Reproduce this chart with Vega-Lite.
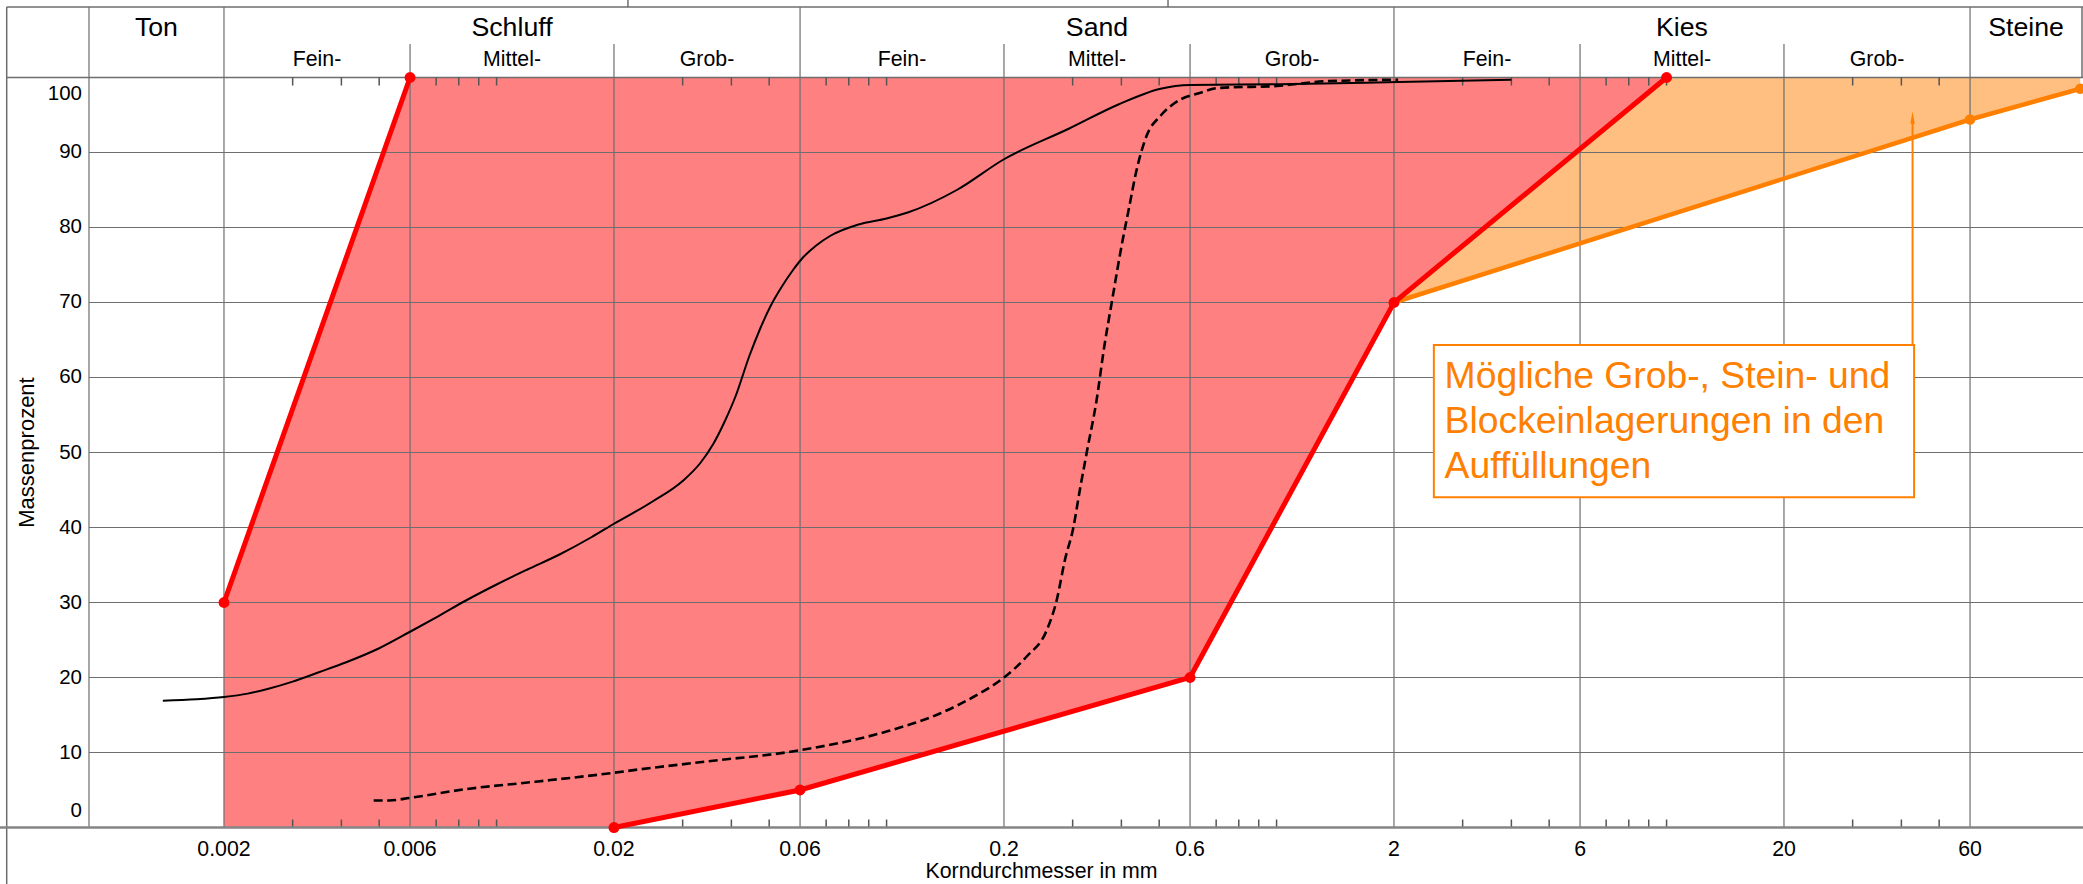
{
  "$schema": "https://vega.github.io/schema/vega-lite/v6.json",
  "width": 2083,
  "height": 884,
  "autosize": {"type": "none"},
  "padding": 0,
  "background": "white",
  "config": {"view": {"stroke": null}, "font": "Liberation Sans"},
  "datasets": {
    "kurve_durchgezogen": [
      {"d": 0.001394, "p": 16.9}, {"d": 0.0017, "p": 17.1}, {"d": 0.002, "p": 17.4}, {"d": 0.0023, "p": 17.85},
      {"d": 0.0026, "p": 18.5}, {"d": 0.003, "p": 19.45}, {"d": 0.0035, "p": 20.7}, {"d": 0.0041, "p": 22.0},
      {"d": 0.005, "p": 23.9}, {"d": 0.006, "p": 26.1}, {"d": 0.0071, "p": 28.2}, {"d": 0.0083, "p": 30.2},
      {"d": 0.01, "p": 32.4}, {"d": 0.012, "p": 34.4}, {"d": 0.0145, "p": 36.4}, {"d": 0.0175, "p": 38.7},
      {"d": 0.02, "p": 40.5}, {"d": 0.025, "p": 43.4}, {"d": 0.03, "p": 46.2}, {"d": 0.0333, "p": 48.6},
      {"d": 0.036, "p": 51.2}, {"d": 0.0385, "p": 54.2}, {"d": 0.041, "p": 57.5}, {"d": 0.0445, "p": 62.9},
      {"d": 0.0474, "p": 66.5}, {"d": 0.0505, "p": 69.6}, {"d": 0.0537, "p": 72.0}, {"d": 0.0575, "p": 74.3},
      {"d": 0.0608, "p": 75.9}, {"d": 0.066, "p": 77.6}, {"d": 0.0718, "p": 78.9}, {"d": 0.0847, "p": 80.4},
      {"d": 0.1, "p": 81.2}, {"d": 0.1133, "p": 82.0}, {"d": 0.1514, "p": 85.0}, {"d": 0.2, "p": 89.1},
      {"d": 0.294, "p": 93.2}, {"d": 0.393, "p": 96.4}, {"d": 0.504, "p": 98.5}, {"d": 0.6, "p": 99.0},
      {"d": 1.02, "p": 99.1}, {"d": 2.05, "p": 99.4}, {"d": 4.0, "p": 99.7}
    ],
    "kurve_gestrichelt": [
      {"d": 0.00484, "p": 3.6}, {"d": 0.0053, "p": 3.6}, {"d": 0.006, "p": 3.95}, {"d": 0.0083, "p": 5.1},
      {"d": 0.01257, "p": 6.1}, {"d": 0.02, "p": 7.3}, {"d": 0.02332, "p": 7.76}, {"d": 0.03456, "p": 8.8},
      {"d": 0.06, "p": 10.3}, {"d": 0.1, "p": 12.8}, {"d": 0.137, "p": 15.2}, {"d": 0.1668, "p": 17.4},
      {"d": 0.2, "p": 20.0}, {"d": 0.2287, "p": 22.8}, {"d": 0.2574, "p": 26.3}, {"d": 0.273, "p": 30.3},
      {"d": 0.2867, "p": 35.7}, {"d": 0.301, "p": 39.9}, {"d": 0.313, "p": 45.0}, {"d": 0.326, "p": 50.0},
      {"d": 0.3456, "p": 57.0}, {"d": 0.362, "p": 64.3}, {"d": 0.377, "p": 69.7}, {"d": 0.4016, "p": 77.9},
      {"d": 0.4186, "p": 82.65}, {"d": 0.4364, "p": 87.4}, {"d": 0.464, "p": 92.2}, {"d": 0.504, "p": 94.9},
      {"d": 0.548, "p": 96.6}, {"d": 0.6416, "p": 98.0}, {"d": 0.7076, "p": 98.6}, {"d": 1.02, "p": 98.9},
      {"d": 1.33, "p": 99.5}, {"d": 2.05, "p": 99.7}
    ],
    "rot_flaeche": [
      {"d": 0.002, "p": 0, "p2": 30}, {"d": 0.006, "p": 0, "p2": 100}, {"d": 0.02, "p": 0, "p2": 100},
      {"d": 0.06, "p": 5, "p2": 100}, {"d": 0.6, "p": 20, "p2": 100}, {"d": 2, "p": 70, "p2": 100},
      {"d": 10, "p": 100, "p2": 100}
    ],
    "rot_linien": [
      {"d": 0.002, "p": 30, "g": "links", "o": 1}, {"d": 0.006, "p": 100, "g": "links", "o": 2},
      {"d": 0.02, "p": 0, "g": "rechts", "o": 1}, {"d": 0.06, "p": 5, "g": "rechts", "o": 2},
      {"d": 0.6, "p": 20, "g": "rechts", "o": 3}, {"d": 2, "p": 70, "g": "rechts", "o": 4},
      {"d": 10, "p": 100, "g": "rechts", "o": 5}
    ],
    "orange": [{"d": 2, "p": 70}, {"d": 60, "p": 94.4}, {"d": 115, "p": 98.5}],
    "gitter": [{"p": 10}, {"p": 20}, {"p": 30}, {"p": 40}, {"p": 50}, {"p": 60}, {"p": 70}, {"p": 80}, {"p": 90}],
    "y_werte": [{"p": 0}, {"p": 10}, {"p": 20}, {"p": 30}, {"p": 40}, {"p": 50}, {"p": 60}, {"p": 70}, {"p": 80}, {"p": 90}, {"p": 100}],
    "x_werte": [{"d": 0.002}, {"d": 0.006}, {"d": 0.02}, {"d": 0.06}, {"d": 0.2}, {"d": 0.6}, {"d": 2}, {"d": 6}, {"d": 20}, {"d": 60}],
    "rahmen_h": [{"p": 100}, {"p": 109.4}],
    "haupt_linien": [{"d": 0.00090134}, {"d": 0.002}, {"d": 0.06}, {"d": 2}, {"d": 60}],
    "unter_linien": [{"d": 0.006}, {"d": 0.02}, {"d": 0.2}, {"d": 0.6}, {"d": 6}, {"d": 20}],
    "rahmen_links": [{"d": 0.0005545}],
    "rahmen_rechts": [{"d": 116.2}],
    "oben_linien": [{"d": 0.02172}, {"d": 0.5268}],
    "nebenstriche": [
      {"d": 0.003}, {"d": 0.004}, {"d": 0.005}, {"d": 0.007}, {"d": 0.008}, {"d": 0.009}, {"d": 0.01},
      {"d": 0.03}, {"d": 0.04}, {"d": 0.05}, {"d": 0.07}, {"d": 0.08}, {"d": 0.09}, {"d": 0.1},
      {"d": 0.3}, {"d": 0.4}, {"d": 0.5}, {"d": 0.7}, {"d": 0.8}, {"d": 0.9}, {"d": 1},
      {"d": 3}, {"d": 4}, {"d": 5}, {"d": 7}, {"d": 8}, {"d": 9}, {"d": 10},
      {"d": 30}, {"d": 40}, {"d": 50}
    ],
    "bereiche": [
      {"name": "Ton", "d": 0.001342, "e": "haupt"}, {"name": "Schluff", "d": 0.010954, "e": "haupt"},
      {"name": "Sand", "d": 0.34641, "e": "haupt"}, {"name": "Kies", "d": 10.954, "e": "haupt"},
      {"name": "Steine", "d": 83.5, "e": "haupt"},
      {"name": "Fein-", "d": 0.0034641, "e": "unter"}, {"name": "Mittel-", "d": 0.010954, "e": "unter"},
      {"name": "Grob-", "d": 0.034641, "e": "unter"}, {"name": "Fein-", "d": 0.10954, "e": "unter"},
      {"name": "Mittel-", "d": 0.34641, "e": "unter"}, {"name": "Grob-", "d": 1.0954, "e": "unter"},
      {"name": "Fein-", "d": 3.4641, "e": "unter"}, {"name": "Mittel-", "d": 10.954, "e": "unter"},
      {"name": "Grob-", "d": 34.641, "e": "unter"}
    ],
    "titel": [{"x": "Korndurchmesser in mm", "y": "Massenprozent"}],
    "anmerkung": [{"t": "Mögliche Grob-, Stein- und\nBlockeinlagerungen in den\nAuffüllungen"}]
  },
  "layer": [
    {
      "data": {"name": "orange"},
      "mark": {"type": "area", "color": "#FFBF80", "opacity": 1},
      "encoding": {
        "x": {"field": "d", "type": "quantitative", "scale": {"type": "log", "domain": [0.00053298, 116.89], "nice": false}, "axis": null},
        "y": {"field": "p", "type": "quantitative", "scale": {"type": "linear", "domain": [-7.533, 110.333], "nice": false, "zero": false}, "axis": null},
        "y2": {"datum": 100}
      }
    },
    {
      "data": {"name": "rot_flaeche"},
      "mark": {"type": "area", "color": "#FF8080", "opacity": 1},
      "encoding": {
        "x": {"field": "d", "type": "quantitative", "scale": {"type": "log", "domain": [0.00053298, 116.89], "nice": false}, "axis": null},
        "y": {"field": "p", "type": "quantitative", "scale": {"type": "linear", "domain": [-7.533, 110.333], "nice": false, "zero": false}, "axis": null},
        "y2": {"field": "p2"}
      }
    },
    {
      "data": {"name": "gitter"},
      "mark": {"type": "rule", "color": "#6e6e6e", "strokeWidth": 1.2},
      "encoding": {
        "x": {"datum": 0.00090134, "type": "quantitative", "scale": {"type": "log", "domain": [0.00053298, 116.89], "nice": false}, "axis": null},
        "x2": {"datum": 116.89},
        "y": {"field": "p", "type": "quantitative", "scale": {"type": "linear", "domain": [-7.533, 110.333], "nice": false, "zero": false}, "axis": null}
      }
    },
    {
      "data": {"name": "rahmen_h"},
      "mark": {"type": "rule", "color": "#6e6e6e", "strokeWidth": 1.5},
      "encoding": {
        "x": {"datum": 0.0005545, "type": "quantitative", "scale": {"type": "log", "domain": [0.00053298, 116.89], "nice": false}, "axis": null},
        "x2": {"datum": 116.89},
        "y": {"field": "p", "type": "quantitative", "scale": {"type": "linear", "domain": [-7.533, 110.333], "nice": false, "zero": false}, "axis": null}
      }
    },
    {
      "data": {"name": "haupt_linien"},
      "mark": {"type": "rule", "color": "#6e6e6e", "strokeWidth": 1.2},
      "encoding": {
        "x": {"field": "d", "type": "quantitative", "scale": {"type": "log", "domain": [0.00053298, 116.89], "nice": false}, "axis": null},
        "y": {"datum": 0, "type": "quantitative", "scale": {"type": "linear", "domain": [-7.533, 110.333], "nice": false, "zero": false}, "axis": null},
        "y2": {"datum": 109.4}
      }
    },
    {
      "data": {"name": "unter_linien"},
      "mark": {"type": "rule", "color": "#6e6e6e", "strokeWidth": 1.2},
      "encoding": {
        "x": {"field": "d", "type": "quantitative", "scale": {"type": "log", "domain": [0.00053298, 116.89], "nice": false}, "axis": null},
        "y": {"datum": 0, "type": "quantitative", "scale": {"type": "linear", "domain": [-7.533, 110.333], "nice": false, "zero": false}, "axis": null},
        "y2": {"datum": 104.47}
      }
    },
    {
      "data": {"name": "rahmen_links"},
      "mark": {"type": "rule", "color": "#6e6e6e", "strokeWidth": 1.5},
      "encoding": {
        "x": {"field": "d", "type": "quantitative", "scale": {"type": "log", "domain": [0.00053298, 116.89], "nice": false}, "axis": null},
        "y": {"datum": -7.533, "type": "quantitative", "scale": {"type": "linear", "domain": [-7.533, 110.333], "nice": false, "zero": false}, "axis": null},
        "y2": {"datum": 109.4}
      }
    },
    {
      "data": {"name": "rahmen_rechts"},
      "mark": {"type": "rule", "color": "#6e6e6e", "strokeWidth": 1.5},
      "encoding": {
        "x": {"field": "d", "type": "quantitative", "scale": {"type": "log", "domain": [0.00053298, 116.89], "nice": false}, "axis": null},
        "y": {"datum": 100, "type": "quantitative", "scale": {"type": "linear", "domain": [-7.533, 110.333], "nice": false, "zero": false}, "axis": null},
        "y2": {"datum": 109.4}
      }
    },
    {
      "data": {"name": "oben_linien"},
      "mark": {"type": "rule", "color": "#6e6e6e", "strokeWidth": 1.5},
      "encoding": {
        "x": {"field": "d", "type": "quantitative", "scale": {"type": "log", "domain": [0.00053298, 116.89], "nice": false}, "axis": null},
        "y": {"datum": 109.4, "type": "quantitative", "scale": {"type": "linear", "domain": [-7.533, 110.333], "nice": false, "zero": false}, "axis": null},
        "y2": {"datum": 110.333}
      }
    },
    {
      "data": {"name": "nebenstriche"},
      "mark": {"type": "rule", "color": "#555555", "strokeWidth": 1.5},
      "encoding": {
        "x": {"field": "d", "type": "quantitative", "scale": {"type": "log", "domain": [0.00053298, 116.89], "nice": false}, "axis": null},
        "y": {"datum": 0, "type": "quantitative", "scale": {"type": "linear", "domain": [-7.533, 110.333], "nice": false, "zero": false}, "axis": null},
        "y2": {"datum": 1.067}
      }
    },
    {
      "data": {"name": "nebenstriche"},
      "mark": {"type": "rule", "color": "#555555", "strokeWidth": 1.5},
      "encoding": {
        "x": {"field": "d", "type": "quantitative", "scale": {"type": "log", "domain": [0.00053298, 116.89], "nice": false}, "axis": null},
        "y": {"datum": 100, "type": "quantitative", "scale": {"type": "linear", "domain": [-7.533, 110.333], "nice": false, "zero": false}, "axis": null},
        "y2": {"datum": 98.93}
      }
    },
    {
      "data": {"name": "titel"},
      "mark": {"type": "rule", "color": "#858585", "strokeWidth": 2.5},
      "encoding": {
        "x": {"datum": 0.00053298, "type": "quantitative", "scale": {"type": "log", "domain": [0.00053298, 116.89], "nice": false}, "axis": null},
        "x2": {"datum": 116.89},
        "y": {"datum": 0, "type": "quantitative", "scale": {"type": "linear", "domain": [-7.533, 110.333], "nice": false, "zero": false}, "axis": null}
      }
    },
    {
      "data": {"name": "kurve_durchgezogen"},
      "mark": {"type": "line", "color": "black", "strokeWidth": 2, "interpolate": "monotone"},
      "encoding": {
        "x": {"field": "d", "type": "quantitative", "scale": {"type": "log", "domain": [0.00053298, 116.89], "nice": false}, "axis": null},
        "y": {"field": "p", "type": "quantitative", "scale": {"type": "linear", "domain": [-7.533, 110.333], "nice": false, "zero": false}, "axis": null}
      }
    },
    {
      "data": {"name": "kurve_gestrichelt"},
      "mark": {"type": "line", "color": "black", "strokeWidth": 2.6, "strokeDash": [9, 4.5], "interpolate": "monotone"},
      "encoding": {
        "x": {"field": "d", "type": "quantitative", "scale": {"type": "log", "domain": [0.00053298, 116.89], "nice": false}, "axis": null},
        "y": {"field": "p", "type": "quantitative", "scale": {"type": "linear", "domain": [-7.533, 110.333], "nice": false, "zero": false}, "axis": null}
      }
    },
    {
      "data": {"name": "orange"},
      "mark": {"type": "line", "color": "#FF8000", "strokeWidth": 4.5},
      "encoding": {
        "x": {"field": "d", "type": "quantitative", "scale": {"type": "log", "domain": [0.00053298, 116.89], "nice": false}, "axis": null},
        "y": {"field": "p", "type": "quantitative", "scale": {"type": "linear", "domain": [-7.533, 110.333], "nice": false, "zero": false}, "axis": null}
      }
    },
    {
      "data": {"name": "rot_linien"},
      "mark": {"type": "line", "color": "#FF0000", "strokeWidth": 5},
      "encoding": {
        "x": {"field": "d", "type": "quantitative", "scale": {"type": "log", "domain": [0.00053298, 116.89], "nice": false}, "axis": null},
        "y": {"field": "p", "type": "quantitative", "scale": {"type": "linear", "domain": [-7.533, 110.333], "nice": false, "zero": false}, "axis": null},
        "detail": {"field": "g"},
        "order": {"field": "o"}
      }
    },
    {
      "data": {"name": "orange"},
      "transform": [{"filter": "datum.d > 2"}],
      "mark": {"type": "point", "filled": true, "color": "#FF8000", "size": 110, "opacity": 1},
      "encoding": {
        "x": {"field": "d", "type": "quantitative", "scale": {"type": "log", "domain": [0.00053298, 116.89], "nice": false}, "axis": null},
        "y": {"field": "p", "type": "quantitative", "scale": {"type": "linear", "domain": [-7.533, 110.333], "nice": false, "zero": false}, "axis": null}
      }
    },
    {
      "data": {"name": "rot_linien"},
      "mark": {"type": "point", "filled": true, "color": "#FF0000", "size": 120, "opacity": 1},
      "encoding": {
        "x": {"field": "d", "type": "quantitative", "scale": {"type": "log", "domain": [0.00053298, 116.89], "nice": false}, "axis": null},
        "y": {"field": "p", "type": "quantitative", "scale": {"type": "linear", "domain": [-7.533, 110.333], "nice": false, "zero": false}, "axis": null}
      }
    },
    {
      "data": {"name": "anmerkung"},
      "mark": {"type": "rect", "fill": "white", "stroke": "#FF8000", "strokeWidth": 2},
      "encoding": {
        "x": {"datum": 2.531, "type": "quantitative", "scale": {"type": "log", "domain": [0.00053298, 116.89], "nice": false}, "axis": null},
        "x2": {"datum": 43.12},
        "y": {"datum": 44.03, "type": "quantitative", "scale": {"type": "linear", "domain": [-7.533, 110.333], "nice": false, "zero": false}, "axis": null},
        "y2": {"datum": 64.33}
      }
    },
    {
      "data": {"name": "anmerkung"},
      "mark": {"type": "rule", "color": "#FF8000", "strokeWidth": 2},
      "encoding": {
        "x": {"datum": 42.73, "type": "quantitative", "scale": {"type": "log", "domain": [0.00053298, 116.89], "nice": false}, "axis": null},
        "y": {"datum": 64.33, "type": "quantitative", "scale": {"type": "linear", "domain": [-7.533, 110.333], "nice": false, "zero": false}, "axis": null},
        "y2": {"datum": 94.0}
      }
    },
    {
      "data": {"name": "anmerkung"},
      "mark": {"type": "point", "shape": "M0,-1L0.35,1L-0.35,1Z", "filled": true, "color": "#FF8000", "size": 156, "opacity": 1},
      "encoding": {
        "x": {"datum": 42.73, "type": "quantitative", "scale": {"type": "log", "domain": [0.00053298, 116.89], "nice": false}, "axis": null},
        "y": {"datum": 94.67, "type": "quantitative", "scale": {"type": "linear", "domain": [-7.533, 110.333], "nice": false, "zero": false}, "axis": null}
      }
    },
    {
      "data": {"name": "anmerkung"},
      "mark": {"type": "text", "lineBreak": "\n", "align": "left", "baseline": "alphabetic", "fontSize": 37.3, "lineHeight": 45, "color": "#FF8000"},
      "encoding": {
        "text": {"field": "t"},
        "x": {"datum": 2.697, "type": "quantitative", "scale": {"type": "log", "domain": [0.00053298, 116.89], "nice": false}, "axis": null},
        "y": {"datum": 58.56, "type": "quantitative", "scale": {"type": "linear", "domain": [-7.533, 110.333], "nice": false, "zero": false}, "axis": null}
      }
    },
    {
      "data": {"name": "bereiche"},
      "transform": [{"filter": "datum.e === 'haupt'"}],
      "mark": {"type": "text", "align": "center", "baseline": "alphabetic", "fontSize": 26.7, "color": "black"},
      "encoding": {
        "text": {"field": "name"},
        "x": {"field": "d", "type": "quantitative", "scale": {"type": "log", "domain": [0.00053298, 116.89], "nice": false}, "axis": null},
        "y": {"datum": 105.53, "type": "quantitative", "scale": {"type": "linear", "domain": [-7.533, 110.333], "nice": false, "zero": false}, "axis": null}
      }
    },
    {
      "data": {"name": "bereiche"},
      "transform": [{"filter": "datum.e === 'unter'"}],
      "mark": {"type": "text", "align": "center", "baseline": "alphabetic", "fontSize": 21.3, "color": "black"},
      "encoding": {
        "text": {"field": "name"},
        "x": {"field": "d", "type": "quantitative", "scale": {"type": "log", "domain": [0.00053298, 116.89], "nice": false}, "axis": null},
        "y": {"datum": 101.53, "type": "quantitative", "scale": {"type": "linear", "domain": [-7.533, 110.333], "nice": false, "zero": false}, "axis": null}
      }
    },
    {
      "data": {"name": "x_werte"},
      "mark": {"type": "text", "align": "center", "baseline": "alphabetic", "fontSize": 21.3, "color": "black"},
      "encoding": {
        "text": {"field": "d", "type": "nominal"},
        "x": {"field": "d", "type": "quantitative", "scale": {"type": "log", "domain": [0.00053298, 116.89], "nice": false}, "axis": null},
        "y": {"datum": -3.76, "type": "quantitative", "scale": {"type": "linear", "domain": [-7.533, 110.333], "nice": false, "zero": false}, "axis": null}
      }
    },
    {
      "data": {"name": "y_werte"},
      "transform": [{"filter": "datum.p > 0 && datum.p < 100"}],
      "mark": {"type": "text", "align": "right", "baseline": "middle", "fontSize": 20.5, "color": "black"},
      "encoding": {
        "text": {"field": "p", "type": "nominal"},
        "x": {"datum": 0.0008648, "type": "quantitative", "scale": {"type": "log", "domain": [0.00053298, 116.89], "nice": false}, "axis": null},
        "y": {"field": "p", "type": "quantitative", "scale": {"type": "linear", "domain": [-7.533, 110.333], "nice": false, "zero": false}, "axis": null}
      }
    },
    {
      "data": {"name": "y_werte"},
      "transform": [{"filter": "datum.p === 100"}],
      "mark": {"type": "text", "align": "right", "baseline": "middle", "fontSize": 20.5, "color": "black", "dy": 16.5},
      "encoding": {
        "text": {"field": "p", "type": "nominal"},
        "x": {"datum": 0.0008648, "type": "quantitative", "scale": {"type": "log", "domain": [0.00053298, 116.89], "nice": false}, "axis": null},
        "y": {"field": "p", "type": "quantitative", "scale": {"type": "linear", "domain": [-7.533, 110.333], "nice": false, "zero": false}, "axis": null}
      }
    },
    {
      "data": {"name": "y_werte"},
      "transform": [{"filter": "datum.p === 0"}],
      "mark": {"type": "text", "align": "right", "baseline": "middle", "fontSize": 20.5, "color": "black", "dy": -16.7},
      "encoding": {
        "text": {"field": "p", "type": "nominal"},
        "x": {"datum": 0.0008648, "type": "quantitative", "scale": {"type": "log", "domain": [0.00053298, 116.89], "nice": false}, "axis": null},
        "y": {"field": "p", "type": "quantitative", "scale": {"type": "linear", "domain": [-7.533, 110.333], "nice": false, "zero": false}, "axis": null}
      }
    },
    {
      "data": {"name": "titel"},
      "mark": {"type": "text", "align": "center", "baseline": "alphabetic", "fontSize": 21.3, "color": "black"},
      "encoding": {
        "text": {"field": "x"},
        "x": {"datum": 0.2496, "type": "quantitative", "scale": {"type": "log", "domain": [0.00053298, 116.89], "nice": false}, "axis": null},
        "y": {"datum": -6.77, "type": "quantitative", "scale": {"type": "linear", "domain": [-7.533, 110.333], "nice": false, "zero": false}, "axis": null}
      }
    },
    {
      "data": {"name": "titel"},
      "mark": {"type": "text", "align": "center", "baseline": "middle", "fontSize": 22, "color": "black", "angle": 270},
      "encoding": {
        "text": {"field": "y"},
        "x": {"datum": 0.000625, "type": "quantitative", "scale": {"type": "log", "domain": [0.00053298, 116.89], "nice": false}, "axis": null},
        "y": {"datum": 50, "type": "quantitative", "scale": {"type": "linear", "domain": [-7.533, 110.333], "nice": false, "zero": false}, "axis": null}
      }
    }
  ]
}
